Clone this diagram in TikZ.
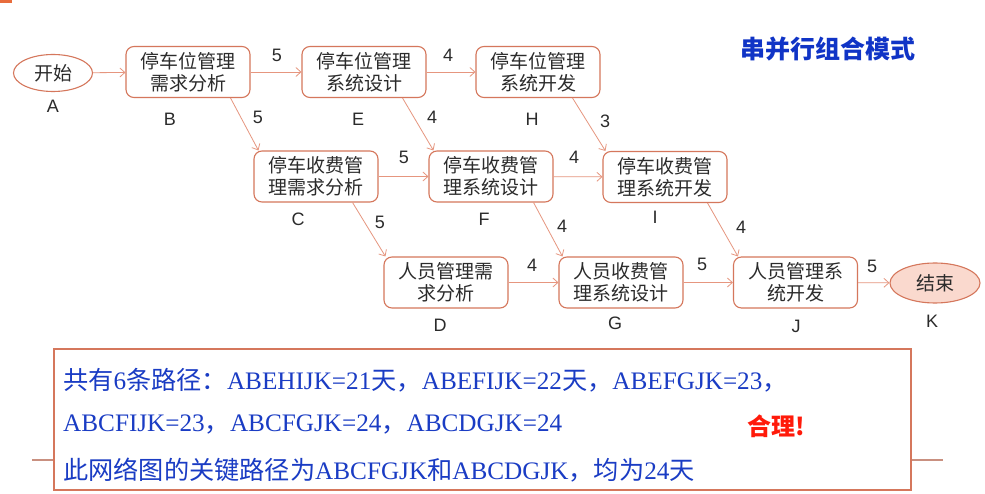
\documentclass[tikz,border=0pt]{standalone}
\usepackage{fontspec}
\setmainfont{Liberation Sans}
\newfontfamily\cjk{Noto Sans CJK SC}
\newfontfamily\tms{Liberation Serif}
\usetikzlibrary{shapes.geometric,arrows.meta}

\definecolor{boxline}{HTML}{D5775C}
\definecolor{edgecol}{HTML}{E6967F}
\definecolor{txt}{HTML}{2B2B2B}
\definecolor{kfill}{HTML}{FAD9CE}
\definecolor{pathblue}{HTML}{1A3CC4}
\definecolor{titleblue}{HTML}{1034C6}
\definecolor{okred}{HTML}{FF1A0A}
\definecolor{rulecol}{HTML}{C99080}
\definecolor{marker}{HTML}{E86C3C}

\tikzset{
  task/.style={draw=boxline, line width=1.1pt, rounded corners=8pt,
    minimum width=124pt, minimum height=51pt, inner sep=0pt, align=center,
    text=txt, font=\cjk\fontsize{19}{22}\selectfont},
  terminal/.style={ellipse, draw=boxline, line width=1.1pt, inner sep=0pt,
    text=txt, font=\cjk\fontsize{19}{22}\selectfont},
  lbl/.style={text=txt, font=\fontsize{18}{18}\selectfont, inner sep=0pt},
  link/.style={draw=edgecol, line width=0.8pt,
    -{Straight Barb[length=5pt,width=9pt]}},
  pathline/.style={anchor=west, text=pathblue, inner sep=0pt,
    font=\fontsize{25.2}{25.2}\selectfont}
}
\newcommand{\lt}[1]{{\tms #1}}
\newcommand{\ck}[1]{{\cjk #1}}

\begin{document}
\begin{tikzpicture}[x=1pt,y=-1pt]
\useasboundingbox (0,0) rectangle (985,494);
\fill[white] (0,0) rectangle (985,494);
\fill[marker] (0,0) rectangle (12,3);

% title
\node[text=titleblue, font=\cjk\bfseries\fontsize{25}{25}\selectfont] (title) at (828,49) {串并行组合模式};

% activities
\node[terminal, minimum width=79pt, minimum height=37pt] (A) at (53,73) {开始};
\node[task] (B) at (188,72) {停车位管理\\需求分析};
\node[task] (E) at (364,72) {停车位管理\\系统设计};
\node[task] (H) at (538,72) {停车位管理\\系统开发};
\node[task] (C) at (316,176.5) {停车收费管\\理需求分析};
\node[task] (F) at (491,176.5) {停车收费管\\理系统设计};
\node[task] (I) at (665,177) {停车收费管\\理系统开发};
\node[task] (D) at (446,282.5) {人员管理需\\求分析};
\node[task] (G) at (621,282.5) {人员收费管\\理系统设计};
\node[task] (J) at (795.5,282.5) {人员管理系\\统开发};
\node[terminal, fill=kfill, minimum width=90pt, minimum height=40pt] (K) at (935,283) {结束};

% activity letters
\node[lbl] (la) at (53,106) {A};
\node[lbl] (lb) at (170,119) {B};
\node[lbl] (le) at (358,119) {E};
\node[lbl] (lh) at (532,119) {H};
\node[lbl] (lc) at (298,219) {C};
\node[lbl] (lf) at (484,219) {F};
\node[lbl] (li) at (655,217) {I};
\node[lbl] (ld) at (440,325) {D};
\node[lbl] (lg) at (615,323) {G};
\node[lbl] (lj) at (796,326) {J};
\node[lbl] (lk) at (932,321) {K};

% connectors
\draw[link] (A) -- (B);
\draw[link] (B) -- (E);
\draw[link] (E) -- (H);
\draw[link] (C) -- (F);
\draw[link] (F) -- (I);
\draw[link] (D) -- (G);
\draw[link] (G) -- (J);
\draw[link] (J) -- (K);
\draw[link] ([xshift=-20pt]B.south east) -- ([xshift=5pt]C.north west);
\draw[link] ([xshift=-24pt]E.south east) -- ([xshift=5pt]F.north west);
\draw[link] ([xshift=-28pt]H.south east) -- ([xshift=3pt]I.north west);
\draw[link] ([xshift=-26pt]C.south east) -- ([xshift=2pt]D.north west);
\draw[link] ([xshift=-20pt]F.south east) -- ([xshift=4pt]G.north west);
\draw[link] ([xshift=-20pt]I.south east) -- ([xshift=5pt]J.north west);

% durations
\node[lbl] (dbe) at (277,55) {5};
\node[lbl] (deh) at (448,55) {4};
\node[lbl] (dbc) at (258,117) {5};
\node[lbl] (def) at (432,117) {4};
\node[lbl] (dhi) at (605,121) {3};
\node[lbl] (dcf) at (404,157) {5};
\node[lbl] (dfi) at (574,157) {4};
\node[lbl] (dcd) at (380,222) {5};
\node[lbl] (dfg) at (562,226) {4};
\node[lbl] (dij) at (741,227) {4};
\node[lbl] (ddg) at (532,265) {4};
\node[lbl] (dgj) at (702,264) {5};
\node[lbl] (djk) at (872,266) {5};

% summary panel
\draw[rulecol, line width=2pt] (32,460) -- (943,460);
\node[draw=boxline, fill=white, line width=1.1pt, inner sep=0pt,
  minimum width=857pt, minimum height=141pt] (panel) at (482.5,419.5) {};
\node[pathline] (p1) at (63,380) {\ck{共有}\lt{6}\ck{条路径：}\lt{ABEHIJK=21}\ck{天，}\lt{ABEFIJK=22}\ck{天，}\lt{ABEFGJK=23}\ck{，}};
\node[pathline] (p2) at (63,425) {\lt{ABCFIJK=23}\ck{，}\lt{ABCFGJK=24}\ck{，}\lt{ABCDGJK=24}};
\node[pathline] (p3) at (63,470) {\ck{此网络图的关键路径为}\lt{ABCFGJK}\ck{和}\lt{ABCDGJK}\ck{，均为}\lt{24}\ck{天}};
\node[text=okred, inner sep=0pt, font=\cjk\bfseries\fontsize{24}{24}\selectfont] (ok) at (776,426) {合理!};
\end{tikzpicture}
\end{document}
